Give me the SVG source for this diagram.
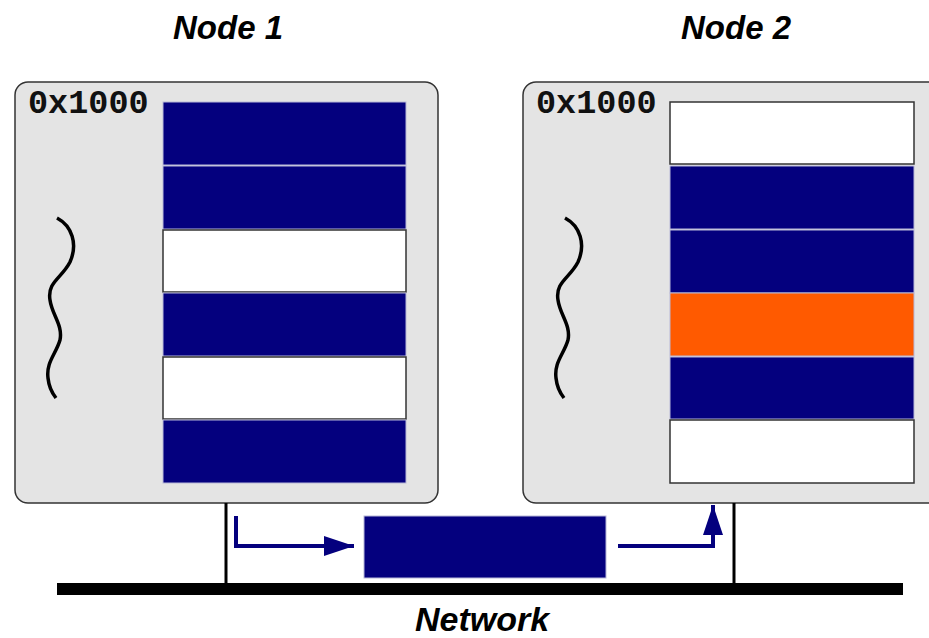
<svg xmlns="http://www.w3.org/2000/svg" width="929" height="638" viewBox="0 0 929 638">
<defs>
<style>
.title{font-family:"Liberation Sans",Arial,sans-serif;font-weight:bold;font-style:italic;font-size:33px;fill:#000;text-anchor:middle}
.net{font-size:34px}
.addr{font-family:"Liberation Mono","Courier New",monospace;font-weight:bold;font-size:33.5px;fill:#111}
.box{fill:#e4e4e4;stroke:#333;stroke-width:1.5}
.navy{fill:#04007e;stroke:#b8b8d8;stroke-width:1}
.white{fill:#fff;stroke:#333;stroke-width:1.5}
.orange{fill:#ff5a00;stroke:#b8b8d8;stroke-width:1}
.wave{fill:none;stroke:#000;stroke-width:3.5;stroke-linecap:butt}
.wire{stroke:#000;stroke-width:3;fill:none}
.flow{stroke:#04007e;stroke-width:4;fill:none}
</style>
<marker id="ah" viewBox="0 0 30 20" refX="30" refY="10" markerWidth="30" markerHeight="20" markerUnits="userSpaceOnUse" orient="auto">
<path d="M0,0 L30,10 L0,20 Z" fill="#04007e"/>
</marker>
<path id="wv" d="M57,218 C72,226 78,244 70,262 C62,278 47,282 50,300 C52,315 63,325 60,340 C56,354 46,362 48,378 C49,388 52,393 56,398"/>
</defs>
<text class="title" x="228" y="39">Node 1</text>
<text class="title" x="736" y="39">Node 2</text>
<g id="node1">
<rect class="box" x="15" y="82" width="423" height="421" rx="13"/>
<text class="addr" x="28" y="113">0x1000</text>
<use href="#wv" class="wave"/>
<rect class="navy" x="163" y="102" width="243" height="63"/>
<rect class="navy" x="163" y="166" width="243" height="63"/>
<rect class="white" x="163" y="230" width="243" height="62"/>
<rect class="navy" x="163" y="293" width="243" height="63"/>
<rect class="white" x="163" y="357" width="243" height="62"/>
<rect class="navy" x="163" y="420" width="243" height="63"/>
</g>
<g id="node2">
<rect class="box" x="523" y="82" width="440" height="421" rx="13"/>
<text class="addr" x="536" y="113">0x1000</text>
<use href="#wv" class="wave" transform="translate(508,0)"/>
<rect class="white" x="670" y="102" width="244" height="62"/>
<rect class="navy" x="670" y="166" width="244" height="63"/>
<rect class="navy" x="670" y="230" width="244" height="63"/>
<rect class="orange" x="670" y="293" width="244" height="63"/>
<rect class="navy" x="670" y="357" width="244" height="62"/>
<rect class="white" x="670" y="420" width="244" height="63"/>
</g>
<g id="packet">
<rect class="navy" x="364" y="516" width="242" height="62"/>
</g>
<g id="network">
<rect x="57" y="583" width="846" height="12" fill="#000"/>
<text class="title net" x="482" y="631">Network</text>
</g>
<g id="connectors">
<line class="wire" x1="226" y1="503" x2="226" y2="584"/>
<line class="wire" x1="734" y1="503" x2="734" y2="584"/>
<path class="flow" d="M236,516 L236,546 L354,546" marker-end="url(#ah)"/>
<path class="flow" d="M618,546 L713,546 L713,505" marker-end="url(#ah)"/>
</g>
</svg>
